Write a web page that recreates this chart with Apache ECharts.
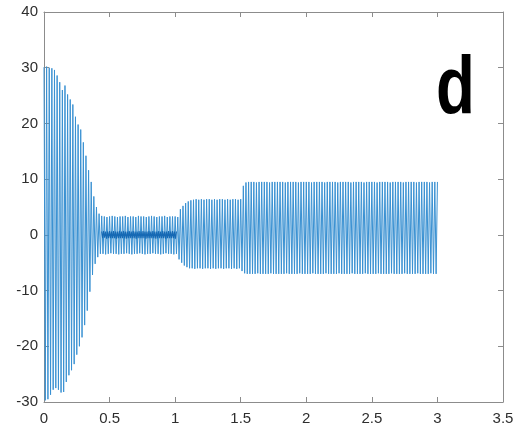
<!DOCTYPE html>
<html>
<head>
<meta charset="utf-8">
<script src="https://cdn.jsdelivr.net/npm/echarts@6/dist/echarts.min.js"></script>
<style>
html,body{margin:0;padding:0;background:#fff;}
#chart{width:528px;height:432px;}
</style>
</head>
<body>
<div id="chart"></div>
<script>
// Half-period between a crest and the next trough (s)
const halfStep = 0.01;

// Crest values, one per cycle, at t = 0, 0.02, 0.04, ... 3.0
const upperPeaks = [
  30.1, 30.2, 30.0, 29.9, 29.6, 28.6, 27.4, 26.0, 26.8, 25.2,
  24.3, 23.4, 21.2, 19.8, 18.9, 16.6, 14.2, 11.6, 9.5, 6.9,
  5.0, 3.8, 3.4, 3.3, 3.2, 3.3, 3.4, 3.3, 3.2, 3.3,
  3.3, 3.4, 3.2, 3.3, 3.3, 3.2, 3.4, 3.3, 3.3, 3.2,
  3.3, 3.4, 3.3, 3.2, 3.3, 3.3, 3.4, 3.2, 3.3, 3.3,
  3.3, 3.2, 4.6, 5.2, 5.7, 6.0, 6.2, 6.3, 6.4, 6.3,
  6.4, 6.3, 6.4, 6.4, 6.3, 6.4, 6.3, 6.4, 6.4, 6.3,
  6.4, 6.3, 6.4, 6.4, 6.3, 6.4, 8.8, 9.4, 9.5, 9.5,
  9.5, 9.4, 9.5, 9.5, 9.5, 9.5, 9.4, 9.5, 9.5, 9.5,
  9.5, 9.5, 9.4, 9.5, 9.5, 9.5, 9.5, 9.4, 9.5, 9.5,
  9.5, 9.5, 9.4, 9.5, 9.5, 9.5, 9.5, 9.4, 9.5, 9.5,
  9.5, 9.5, 9.4, 9.5, 9.5, 9.5, 9.5, 9.4, 9.5, 9.5,
  9.5, 9.5, 9.4, 9.5, 9.5, 9.5, 9.5, 9.4, 9.5, 9.5,
  9.5, 9.5, 9.4, 9.5, 9.5, 9.5, 9.5, 9.4, 9.5, 9.5,
  9.5, 9.5, 9.4, 9.5, 9.5, 9.5, 9.5, 9.4, 9.5, 9.5,
  9.5
];

// Trough values, one per cycle, at t = 0.01, 0.03, ... 2.99
const lowerPeaks = [
  -29.7, -29.5, -28.7, -27.8, -27.5, -27.8, -28.3, -28.2, -26.4, -25.2,
  -24.3, -23.2, -21.5, -20.0, -18.4, -16.2, -13.6, -10.2, -7.2, -5.2,
  -4.0, -3.4, -3.4, -3.5, -3.4, -3.3, -3.4, -3.4, -3.5, -3.4,
  -3.4, -3.3, -3.4, -3.5, -3.4, -3.4, -3.3, -3.4, -3.5, -3.4,
  -3.4, -3.3, -3.4, -3.4, -3.5, -3.4, -3.3, -3.4, -3.4, -3.5,
  -3.4, -4.4, -5.0, -5.5, -5.8, -6.0, -6.0, -6.1, -6.0, -6.0,
  -6.1, -6.0, -6.0, -6.1, -6.0, -6.1, -6.0, -6.0, -6.1, -6.0,
  -6.0, -6.1, -6.0, -6.1, -6.0, -6.5, -6.9, -7.0, -7.0, -7.0,
  -7.0, -6.9, -7.0, -7.0, -7.0, -7.0, -6.9, -7.0, -7.0, -7.0,
  -7.0, -7.0, -6.9, -7.0, -7.0, -7.0, -7.0, -6.9, -7.0, -7.0,
  -7.0, -7.0, -6.9, -7.0, -7.0, -7.0, -7.0, -6.9, -7.0, -7.0,
  -7.0, -7.0, -6.9, -7.0, -7.0, -7.0, -7.0, -6.9, -7.0, -7.0,
  -7.0, -7.0, -6.9, -7.0, -7.0, -7.0, -7.0, -6.9, -7.0, -7.0,
  -7.0, -7.0, -6.9, -7.0, -7.0, -7.0, -7.0, -6.9, -7.0, -7.0,
  -7.0, -7.0, -6.9, -7.0, -7.0, -7.0, -7.0, -6.9, -7.0, -7.0
];

// Dense small ripple around zero in the 0.44 - 1.02 s segment
const rippleStart = 0.44;
const rippleStep = 0.0075;
const rippleValues = [
  0.6, -0.6, 0.7, -0.5, 0.6, -0.7, 0.6, -0.6, 0.7, -0.6,
  0.6, -0.6, 0.7, -0.6, 0.6, -0.7, 0.6, -0.6, 0.7, -0.6,
  0.6, -0.6, 0.7, -0.6, 0.6, -0.7, 0.6, -0.6, 0.7, -0.6,
  0.6, -0.6, 0.7, -0.6, 0.6, -0.7, 0.6, -0.6, 0.7, -0.6,
  0.6, -0.6, 0.7, -0.6, 0.6, -0.7, 0.6, -0.6, 0.7, -0.6,
  0.6, -0.6, 0.7, -0.6, 0.6, -0.7, 0.6, -0.6, 0.7, -0.6,
  0.6, -0.6, 0.7, -0.6, 0.6, -0.7, 0.6, -0.6, 0.7, -0.6,
  0.6, -0.6, 0.7, -0.6, 0.6, -0.7, 0.6
];

const xTicks = { min: 0, max: 3.5, interval: 0.5 };
const yTicks = { min: -30, max: 40, interval: 10 };
const panelLabel = 'd';

const signal = [];
for (let i = 0; i <= 2 * lowerPeaks.length; i++) {
  const t = +(i * halfStep).toFixed(4);
  const v = (i % 2 === 0) ? upperPeaks[i / 2] : lowerPeaks[(i - 1) / 2];
  signal.push([t, v]);
}
const ripple = rippleValues.map((v, i) => [+(rippleStart + i * rippleStep).toFixed(4), v]);

const axisColor = '#8c8c8c';
const labelStyle = { color: '#2e2e2e', fontSize: 15, fontFamily: 'Liberation Sans, Arial, sans-serif' };

const chart = echarts.init(document.getElementById('chart'), null, { renderer: 'canvas' });
chart.setOption({
  animation: false,
  backgroundColor: '#ffffff',
  grid: { left: 44, right: 25, top: 12, bottom: 30, containLabel: false },
  xAxis: [
    {
      type: 'value', position: 'bottom', min: xTicks.min, max: xTicks.max, interval: xTicks.interval,
      axisLine: { show: true, onZero: false, lineStyle: { color: axisColor, width: 1 } },
      axisTick: { show: true, inside: true, length: 5, lineStyle: { color: axisColor } },
      axisLabel: Object.assign({ margin: 9 }, labelStyle),
      splitLine: { show: false }
    },
    {
      type: 'value', position: 'top', min: xTicks.min, max: xTicks.max, interval: xTicks.interval,
      axisLine: { show: true, onZero: false, lineStyle: { color: axisColor, width: 1 } },
      axisTick: { show: true, inside: true, length: 5, lineStyle: { color: axisColor } },
      axisLabel: { show: false },
      splitLine: { show: false }
    }
  ],
  yAxis: [
    {
      type: 'value', position: 'left', min: yTicks.min, max: yTicks.max, interval: yTicks.interval,
      axisLine: { show: true, onZero: false, lineStyle: { color: axisColor, width: 1 } },
      axisTick: { show: true, inside: true, length: 5, lineStyle: { color: axisColor } },
      axisLabel: Object.assign({ margin: 6 }, labelStyle),
      splitLine: { show: false }
    },
    {
      type: 'value', position: 'right', min: yTicks.min, max: yTicks.max, interval: yTicks.interval,
      axisLine: { show: true, onZero: false, lineStyle: { color: axisColor, width: 1 } },
      axisTick: { show: true, inside: true, length: 5, lineStyle: { color: axisColor } },
      axisLabel: { show: false },
      splitLine: { show: false }
    }
  ],
  series: [
    {
      type: 'line', xAxisIndex: 0, yAxisIndex: 0, data: signal,
      showSymbol: false, symbol: 'none', sampling: null,
      lineStyle: { color: '#3a91d2', width: 1 },
      z: 2
    },
    {
      type: 'line', xAxisIndex: 0, yAxisIndex: 0, data: ripple,
      showSymbol: false, symbol: 'none',
      lineStyle: { color: '#1669b4', width: 1.1 },
      z: 3
    }
  ],
  graphic: [
    {
      type: 'text', x: 436, y: 50, scaleX: 0.86, scaleY: 1.1,
      style: { text: panelLabel, fill: '#000', font: 'bold 74px "Liberation Sans", Arial, sans-serif' }
    }
  ]
});
</script>
</body>
</html>
